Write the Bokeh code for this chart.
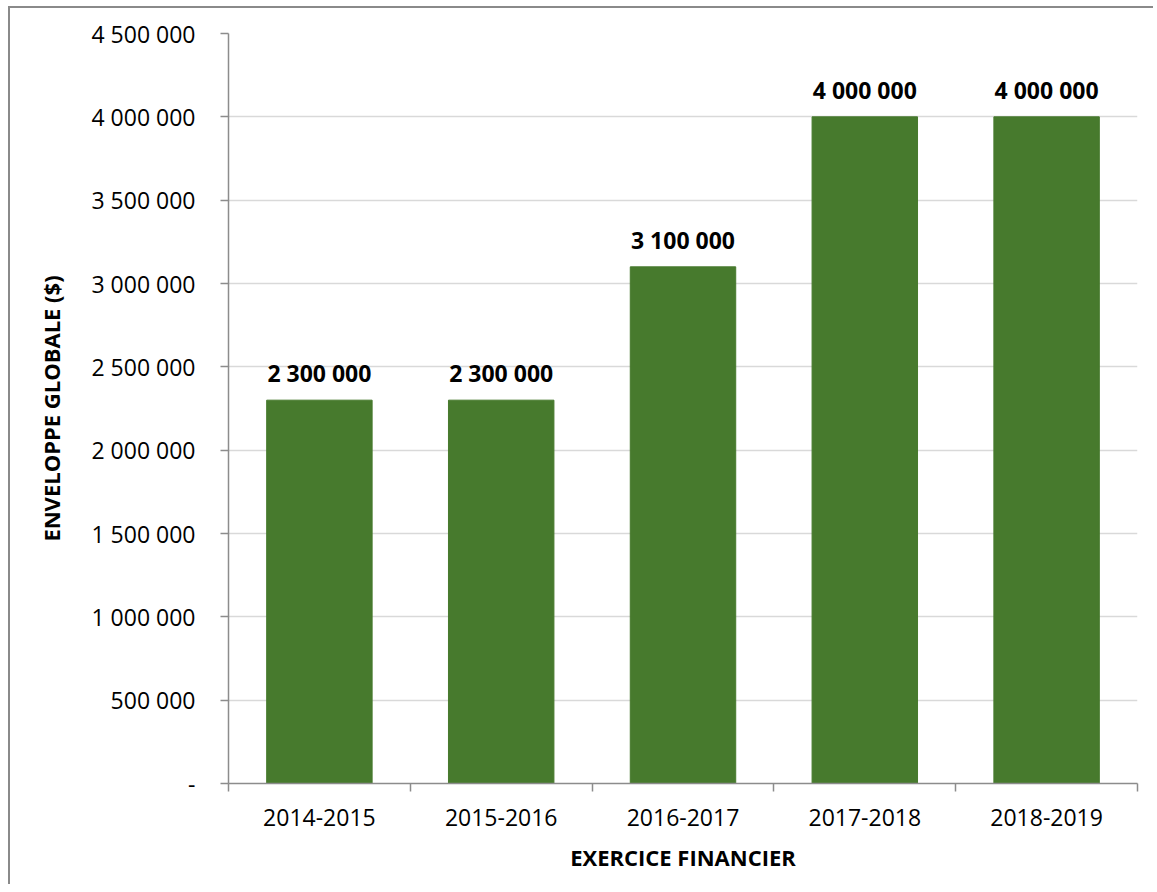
from bokeh.plotting import figure
from bokeh.models import Range1d, FixedTicker, ColumnDataSource
from bokeh.core.properties import value
from bokeh.embed import file_html
from bokeh.resources import INLINE

# ---- data ----
categories = ["2014-2015", "2015-2016", "2016-2017", "2017-2018", "2018-2019"]
amounts = [2300000, 2300000, 3100000, 4000000, 4000000]
amount_labels = ["2 300 000", "2 300 000", "3 100 000", "4 000 000", "4 000 000"]
y_ticks = [0, 500000, 1000000, 1500000, 2000000, 2500000, 3000000, 3500000, 4000000, 4500000]
y_tick_labels = ["-", "500 000", "1 000 000", "1 500 000", "2 000 000", "2 500 000",
                 "3 000 000", "3 500 000", "4 000 000", "4 500 000"]
x_title = "EXERCICE FINANCIER"
y_title = "ENVELOPPE GLOBALE ($)"

FONT = "Open Sans"
GREEN = "#477A2D"
AXIS = "#8c8c8c"
GRID = "#d9d9d9"

x_pos = [i + 0.5 for i in range(len(categories))]
src = ColumnDataSource(dict(x=x_pos, top=amounts, label=amount_labels))

p = figure(width=1145, height=878,
           x_range=Range1d(0, len(categories)), y_range=Range1d(0, y_ticks[-1]),
           output_backend="svg", toolbar_location=None,
           min_border_left=218, min_border_top=25, min_border_right=18, min_border_bottom=103)
p.styles = {"border-left": "2px solid #8a8a8a", "border-top": "2px solid #8a8a8a",
            "margin-left": "8px", "margin-top": "6px"}
p.outline_line_color = None
p.background_fill_color = "white"
p.border_fill_color = "white"

# bars
p.vbar(x="x", top="top", width=0.58, bottom=0, source=src,
       fill_color=GREEN, line_color=GREEN, line_width=1)

# data labels
p.text(x="x", y="top", text="label", source=src, text_align="center",
       text_baseline="alphabetic", y_offset=-27,
       text_font=value(FONT), text_font_style="bold", text_font_size="23px",
       text_color="black")

# grid
p.xgrid.visible = False
p.ygrid.ticker = FixedTicker(ticks=y_ticks)
p.ygrid.grid_line_color = GRID
p.ygrid.grid_line_width = 1.5

# y axis
ya = p.yaxis[0]
ya.ticker = FixedTicker(ticks=y_ticks)
ya.major_label_overrides = {t: lab for t, lab in zip(y_ticks, y_tick_labels)}
ya.major_label_text_font = FONT
ya.major_label_text_font_size = "23px"
ya.major_label_text_color = "black"
ya.major_label_standoff = 25
ya.major_tick_out = 8
ya.major_tick_in = 0
ya.minor_tick_out = 0
ya.minor_tick_in = 0
ya.major_tick_line_color = AXIS
ya.major_tick_line_width = 1.5
ya.axis_line_color = AXIS
ya.axis_line_width = 1.5
ya.axis_label = y_title
ya.axis_label_text_font = FONT
ya.axis_label_text_font_style = "bold"
ya.axis_label_text_font_size = "22px"
ya.axis_label_text_color = "black"
ya.axis_label_standoff = 22

# x axis: labels at category centres, ticks at category boundaries
xa = p.xaxis[0]
xa.ticker = FixedTicker(ticks=x_pos, minor_ticks=list(range(len(categories) + 1)))
xa.major_label_overrides = {x: c for x, c in zip(x_pos, categories)}
xa.major_label_text_font = FONT
xa.major_label_text_font_size = "23px"
xa.major_label_text_color = "black"
xa.major_label_standoff = 17
xa.major_tick_out = 0
xa.major_tick_in = 0
xa.minor_tick_out = 8
xa.minor_tick_in = 0
xa.minor_tick_line_color = AXIS
xa.minor_tick_line_width = 1.5
xa.axis_line_color = AXIS
xa.axis_line_width = 1.5
xa.axis_label = x_title
xa.axis_label_text_font = FONT
xa.axis_label_text_font_style = "bold"
xa.axis_label_text_font_size = "22px"
xa.axis_label_text_color = "black"
xa.axis_label_standoff = 13

open("out.html", "w").write(file_html(p, INLINE))
